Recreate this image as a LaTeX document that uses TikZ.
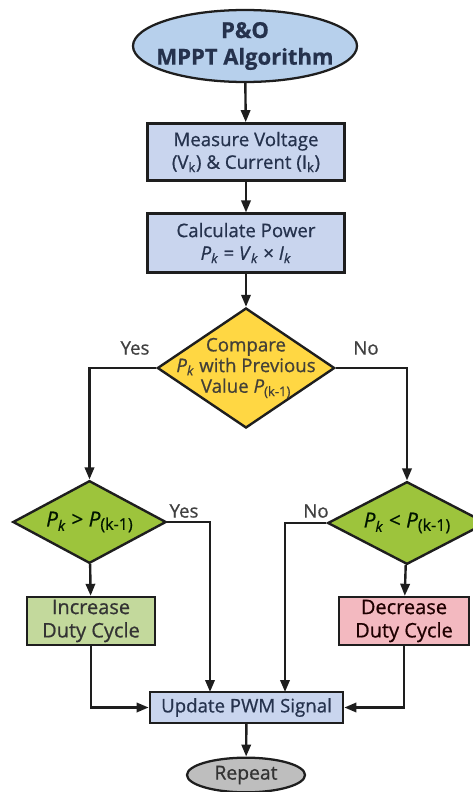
\documentclass[tikz,border=0pt]{standalone}
\usepackage{fontspec}
\setmainfont{Open Sans}[FakeBold=0.7]
\usetikzlibrary{shapes.geometric,arrows.meta}

\definecolor{termblue}{HTML}{B7D0EC}
\definecolor{procblue}{HTML}{C9D5EE}
\definecolor{cmpyellow}{HTML}{FFD743}
\definecolor{decgreen}{HTML}{9DC43C}
\definecolor{incgreen}{HTML}{C3D99C}
\definecolor{decpink}{HTML}{F3B9C0}
\definecolor{repgray}{HTML}{BEBEBE}
\definecolor{navytext}{HTML}{25324D}
\definecolor{edge}{HTML}{1E1E1E}

\newcommand{\Pk}{\textit{P}\textsubscript{\textit{k}}}
\newcommand{\Pprev}{\textit{P}\raisebox{-0.3ex}{\fontsize{0.78em}{1em}\selectfont(k-1)}}

\begin{document}
\begin{tikzpicture}[x=0.75pt,y=-0.75pt,
  terminal/.style={ellipse,draw=edge,line width=1.7pt,inner sep=0pt},
  process/.style={rectangle,draw=edge,line width=1.8pt,fill=procblue,
    text=navytext,align=center,inner sep=0pt,font=\fontsize{14}{17}\selectfont},
  decision/.style={diamond,draw=edge,line width=1.8pt,inner sep=0pt},
  dtext/.style={align=center,font=\fontsize{14}{15.5}\selectfont},
  flow/.style={-{Triangle[length=9pt,width=7pt]},line width=1.8pt,draw=edge},
  branch/.style={font=\fontsize{14}{16}\selectfont,text=black!75}]
\useasboundingbox (0,0) rectangle (473,792);

% start
\node[terminal,fill=termblue,minimum width=168pt,minimum height=54pt] (start) at (245,46) {};
\node[align=center,text=navytext,font=\bfseries\fontsize{16.5}{20}\selectfont] (start-t) at (start) {P\&O\\MPPT Algorithm};

% measure and compute
\node[process,minimum width=148pt,minimum height=43pt] (meas) at (246,152) {Measure Voltage\\(V\textsubscript{k}) \& Current (I\textsubscript{k})};
\node[process,minimum width=148pt,minimum height=44pt] (calc) at (246,243) {Calculate Power\\\Pk{} = \textit{V}\textsubscript{\textit{k}} × \textit{I}\textsubscript{\textit{k}}};

% compare
\node[decision,fill=cmpyellow,minimum width=133pt,minimum height=90pt] (cmp) at (246,368) {};
\node[dtext,text=black!75!yellow!60!black] (cmp-t) at (cmp) {Compare\\\Pk{} with Previous\\Value \textit{P}\textsubscript{(k-1)}};

% the two tests
\node[decision,fill=decgreen,minimum width=115pt,minimum height=62pt] (gt) at (89.5,522) {};
\node[dtext,text=black!80!green!40!black,font=\fontsize{15.5}{17}\selectfont] (gt-t) at (gt) {\Pk{} > \Pprev};
\node[decision,fill=decgreen,minimum width=119pt,minimum height=62pt] (lt) at (407,523) {};
\node[dtext,text=black!80!green!40!black,font=\fontsize{15.5}{17}\selectfont] (lt-t) at (lt) {\Pk{} < \Pprev};

% duty cycle
\node[process,fill=incgreen,text=black!80,minimum width=96pt,minimum height=36pt,font=\fontsize{15}{17.5}\selectfont] (inc) at (91,621) {Increase\\Duty Cycle};
\node[process,fill=decpink,text=black!70!red!40!black,minimum width=97.5pt,minimum height=36pt,font=\fontsize{15}{17.5}\selectfont] (dec) at (404,621) {Decrease\\Duty Cycle};

% update and repeat
\node[process,minimum width=145pt,minimum height=23pt] (upd) at (246.5,707.5) {Update PWM Signal};
\node[terminal,fill=repgray,minimum width=88.5pt,minimum height=26pt] (rep) at (246,775) {};
\node[text=black!80,font=\fontsize{14.5}{16}\selectfont] (rep-t) at (rep) {Repeat};

\coordinate (updA) at (210,692);
\coordinate (updB) at (285,692);

\draw[flow] (start) -- (meas);
\draw[flow] (meas) -- (calc);
\draw[flow] (calc) -- (cmp);
\draw[flow] (cmp.west) -| (gt.north);
\draw[flow] (cmp.east) -| (lt.north);
\draw[flow] (gt) -- (inc);
\draw[flow] (lt) -- (dec);
\draw[flow] (gt.east) -| (updA);
\draw[flow] (lt.west) -| (updB);
\draw[flow] (inc.south) |- (upd.west);
\draw[flow] (dec.south) |- (upd.east);
\draw[flow] (upd) -- (rep);

\node[branch] (yes1) at (135,348) {Yes};
\node[branch] (no1) at (366,348) {No};
\node[branch] (yes2) at (184,511) {Yes};
\node[branch] (no2) at (316,511) {No};
\end{tikzpicture}
\end{document}
